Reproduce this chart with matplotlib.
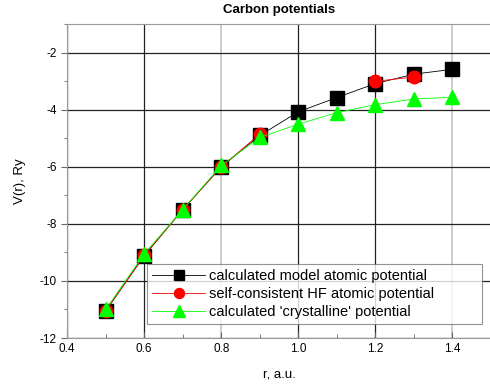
import numpy as np
from matplotlib import pyplot as plt
from matplotlib.ticker import MultipleLocator

plt.rcParams['font.family'] = ['Liberation Sans', 'DejaVu Sans']

# datos
r = [0.5, 0.6, 0.7, 0.8, 0.9, 1.0, 1.1, 1.2, 1.3, 1.4]
v_modelo = [-11.05, -9.12, -7.5, -6.0, -4.9, -4.07, -3.57, -3.08, -2.75, -2.58]
v_hf = [-11.05, -9.1, -7.5, -6.0, -4.85, np.nan, np.nan, -3.0, -2.85, np.nan]
v_cristal = [-11.0, -9.05, -7.5, -5.95, -4.97, -4.5, -4.1, -3.82, -3.62, -3.56]

etiquetas = ["calculated model atomic potential",
             "self-consistent HF atomic potential",
             "calculated 'crystalline' potential"]

fig = plt.figure(figsize=(4.9, 3.91), dpi=100)
ax = fig.add_axes([0.137, 0.1355, 0.865, 0.8025])

ax.plot(r, v_modelo, color='black', lw=0.6, marker='s', ms=9.5,
        mfc='black', mec='black', label=etiquetas[0], zorder=3)
ax.plot(r, v_hf, color='red', lw=0.6, marker='o', ms=9,
        mfc='red', mec='red', label=etiquetas[1], zorder=4)
ax.plot(r, v_cristal, color='#00ff00', lw=0.6, marker='^', ms=10,
        mfc='#00ff00', mec='#00ff00', label=etiquetas[2], zorder=5)

ax.set_xlim(0.4, 1.5)
ax.set_ylim(-12, -1)
ax.xaxis.set_major_locator(MultipleLocator(0.2))
ax.xaxis.set_minor_locator(MultipleLocator(0.1))
ax.yaxis.set_major_locator(MultipleLocator(2))
ax.yaxis.set_minor_locator(MultipleLocator(1))
ax.xaxis.set_major_formatter(plt.FuncFormatter(lambda v, p: "%.1f" % v))
ax.yaxis.set_major_formatter(plt.FuncFormatter(lambda v, p: "%d" % v))

ax.grid(True, which='major', color='#222222', lw=0.9)
for linea, valor in zip(ax.xaxis.get_gridlines(), ax.get_xticks()):
    if abs(valor - 0.8) < 0.01 or abs(valor - 1.4) < 0.01:
        linea.set_color('#c8c8c8')
        linea.set_linewidth(1.3)
ax.set_axisbelow(True)

for lado in ['top', 'bottom', 'left']:
    ax.spines[lado].set_color('#999999')
ax.spines['right'].set_visible(False)

ax.tick_params(axis='x', which='major', direction='in', length=4, labelsize=8.5, color='#666666')
ax.tick_params(axis='x', which='minor', direction='in', length=3, color='#666666')
ax.tick_params(axis='y', which='major', direction='out', length=4, labelsize=8.5, color='#666666')
ax.tick_params(axis='y', which='minor', direction='out', length=2.5, color='#666666')

ax.set_title("Carbon potentials", fontsize=9.5, fontweight='bold', pad=8)
ax.set_xlabel('r, a.u.', fontsize=9.5, labelpad=10)
ax.set_ylabel('V(r), Ry', fontsize=9.5, labelpad=10)

leg = ax.legend(loc='lower left', bbox_to_anchor=(0.189, 0.045, 0.79, 0.2),
                mode='expand', fontsize=10.5,
                frameon=True, fancybox=False, edgecolor='#777777',
                handlelength=3.6, borderpad=0.35, labelspacing=0.28,
                handletextpad=0.3, markerscale=0.8, borderaxespad=0)
leg.get_frame().set_linewidth(0.8)

plt.savefig('out.png', dpi=100)
